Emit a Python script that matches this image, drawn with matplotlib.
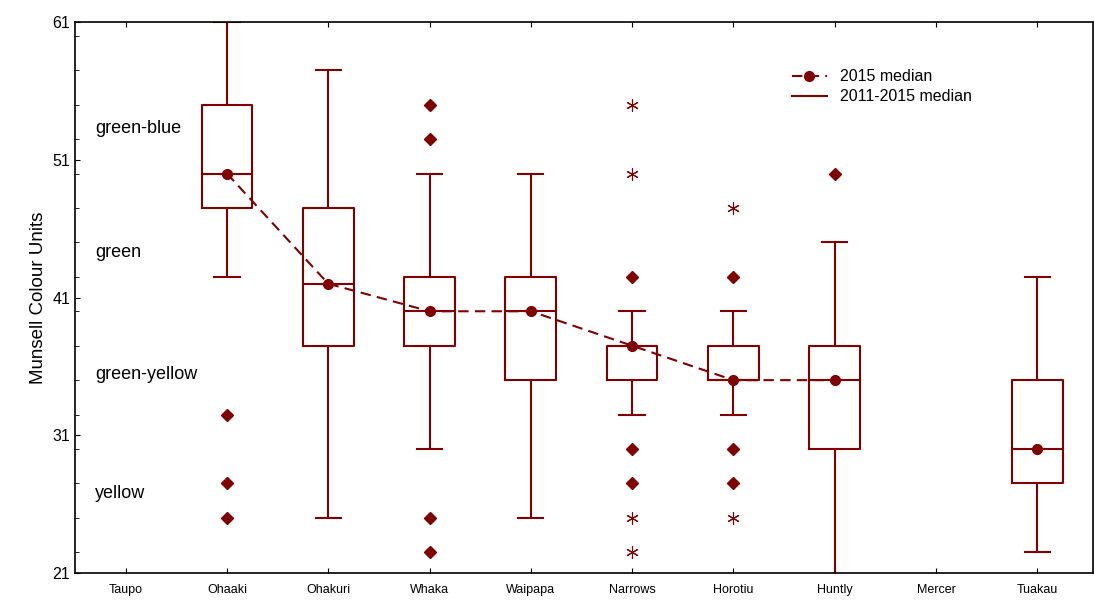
import numpy as np
import matplotlib
matplotlib.use("Agg")
import matplotlib.pyplot as plt
from matplotlib.ticker import MultipleLocator

plt.rcParams['font.family'] = ['Liberation Sans', 'DejaVu Sans']

sites = ["Taupo", "Ohaaki", "Ohakuri", "Whaka", "Waipapa", "Narrows", "Horotiu", "Huntly", "Mercer", "Tuakau"]
whislo = [None, 42.5, 25, 30, 25, 32.5, 32.5, 20, None, 22.5]
q1 = [None, 47.5, 37.5, 37.5, 35, 35, 35, 30, None, 27.5]
med = [None, 50, 42, 40, 40, 37.5, 35, 35, None, 30]
q3 = [None, 55, 47.5, 42.5, 42.5, 37.5, 37.5, 37.5, None, 35]
whishi = [None, 61, 57.5, 50, 50, 40, 40, 45, None, 42.5]
outliers = [[], [32.5, 27.5, 25], [], [55, 52.5, 25, 22.5], [], [42.5, 30, 27.5], [42.5, 30, 27.5], [50], [], []]
extremes = [[], [], [], [], [], [55, 50, 25, 22.5], [47.5, 25], [], [], []]
median2015 = [np.nan, 50, 42, 40, 40, 37.5, 35, 35, np.nan, 30]
bands = ["green-blue", "green", "green-yellow", "yellow"]
band_y = [53.3, 44.3, 35.4, 26.8]

C = "#800000"
fig = plt.figure(figsize=(10.94, 6.01), dpi=100)
ax = fig.add_axes([75/1094, 28/601, (1093-75)/1094, (573-22)/601])

stats = []
pos = []
for i in range(len(sites)):
    if med[i] is None:
        continue
    stats.append(dict(med=med[i], q1=q1[i], q3=q3[i], whislo=whislo[i], whishi=whishi[i], fliers=[]))
    pos.append(i)
lp = dict(color=C, lw=1.5)
ax.bxp(stats, positions=pos, widths=0.5, showfliers=False,
       boxprops=lp, medianprops=lp, whiskerprops=lp, capprops=lp)

for i in range(len(sites)):
    if outliers[i]:
        ax.plot([i]*len(outliers[i]), outliers[i], "D", color=C, ms=6, ls="none")
    if extremes[i]:
        ax.plot([i]*len(extremes[i]), extremes[i], marker=(6, 2, 0), color=C, ms=9, ls="none",
                markeredgewidth=0.8)

x = np.arange(len(sites))
ax.plot(x, median2015, "--o", color=C, lw=1.5, ms=7, label="2015 median", dashes=(5, 3))
ax.plot([], [], "-", color=C, lw=1.5, label="2011-2015 median")
ax.legend(loc="upper left", bbox_to_anchor=(0.69, 0.94), frameon=False, fontsize=11.5,
          handlelength=2.2, labelspacing=0.3)

for t, yv in zip(bands, band_y):
    ax.text(-0.3, yv, t, fontsize=13, va="center", ha="left")

ax.set_xlim(-0.5, 9.55)
ax.set_ylim(21, 61)
ax.set_xticks(x)
ax.set_xticklabels(sites, fontsize=9)
ax.set_yticks([21, 31, 41, 51, 61])
ax.yaxis.set_minor_locator(MultipleLocator(2.5))
ax.tick_params(axis="y", labelsize=11.5, direction="in")
ax.tick_params(axis="x", direction="in", top=True, pad=8)
ax.tick_params(which="minor", direction="in", length=3)
ax.set_ylabel("Munsell Colour Units", fontsize=13.5)
for s in ax.spines.values():
    s.set_linewidth(1.2)
fig.savefig("out.png", dpi=100)
